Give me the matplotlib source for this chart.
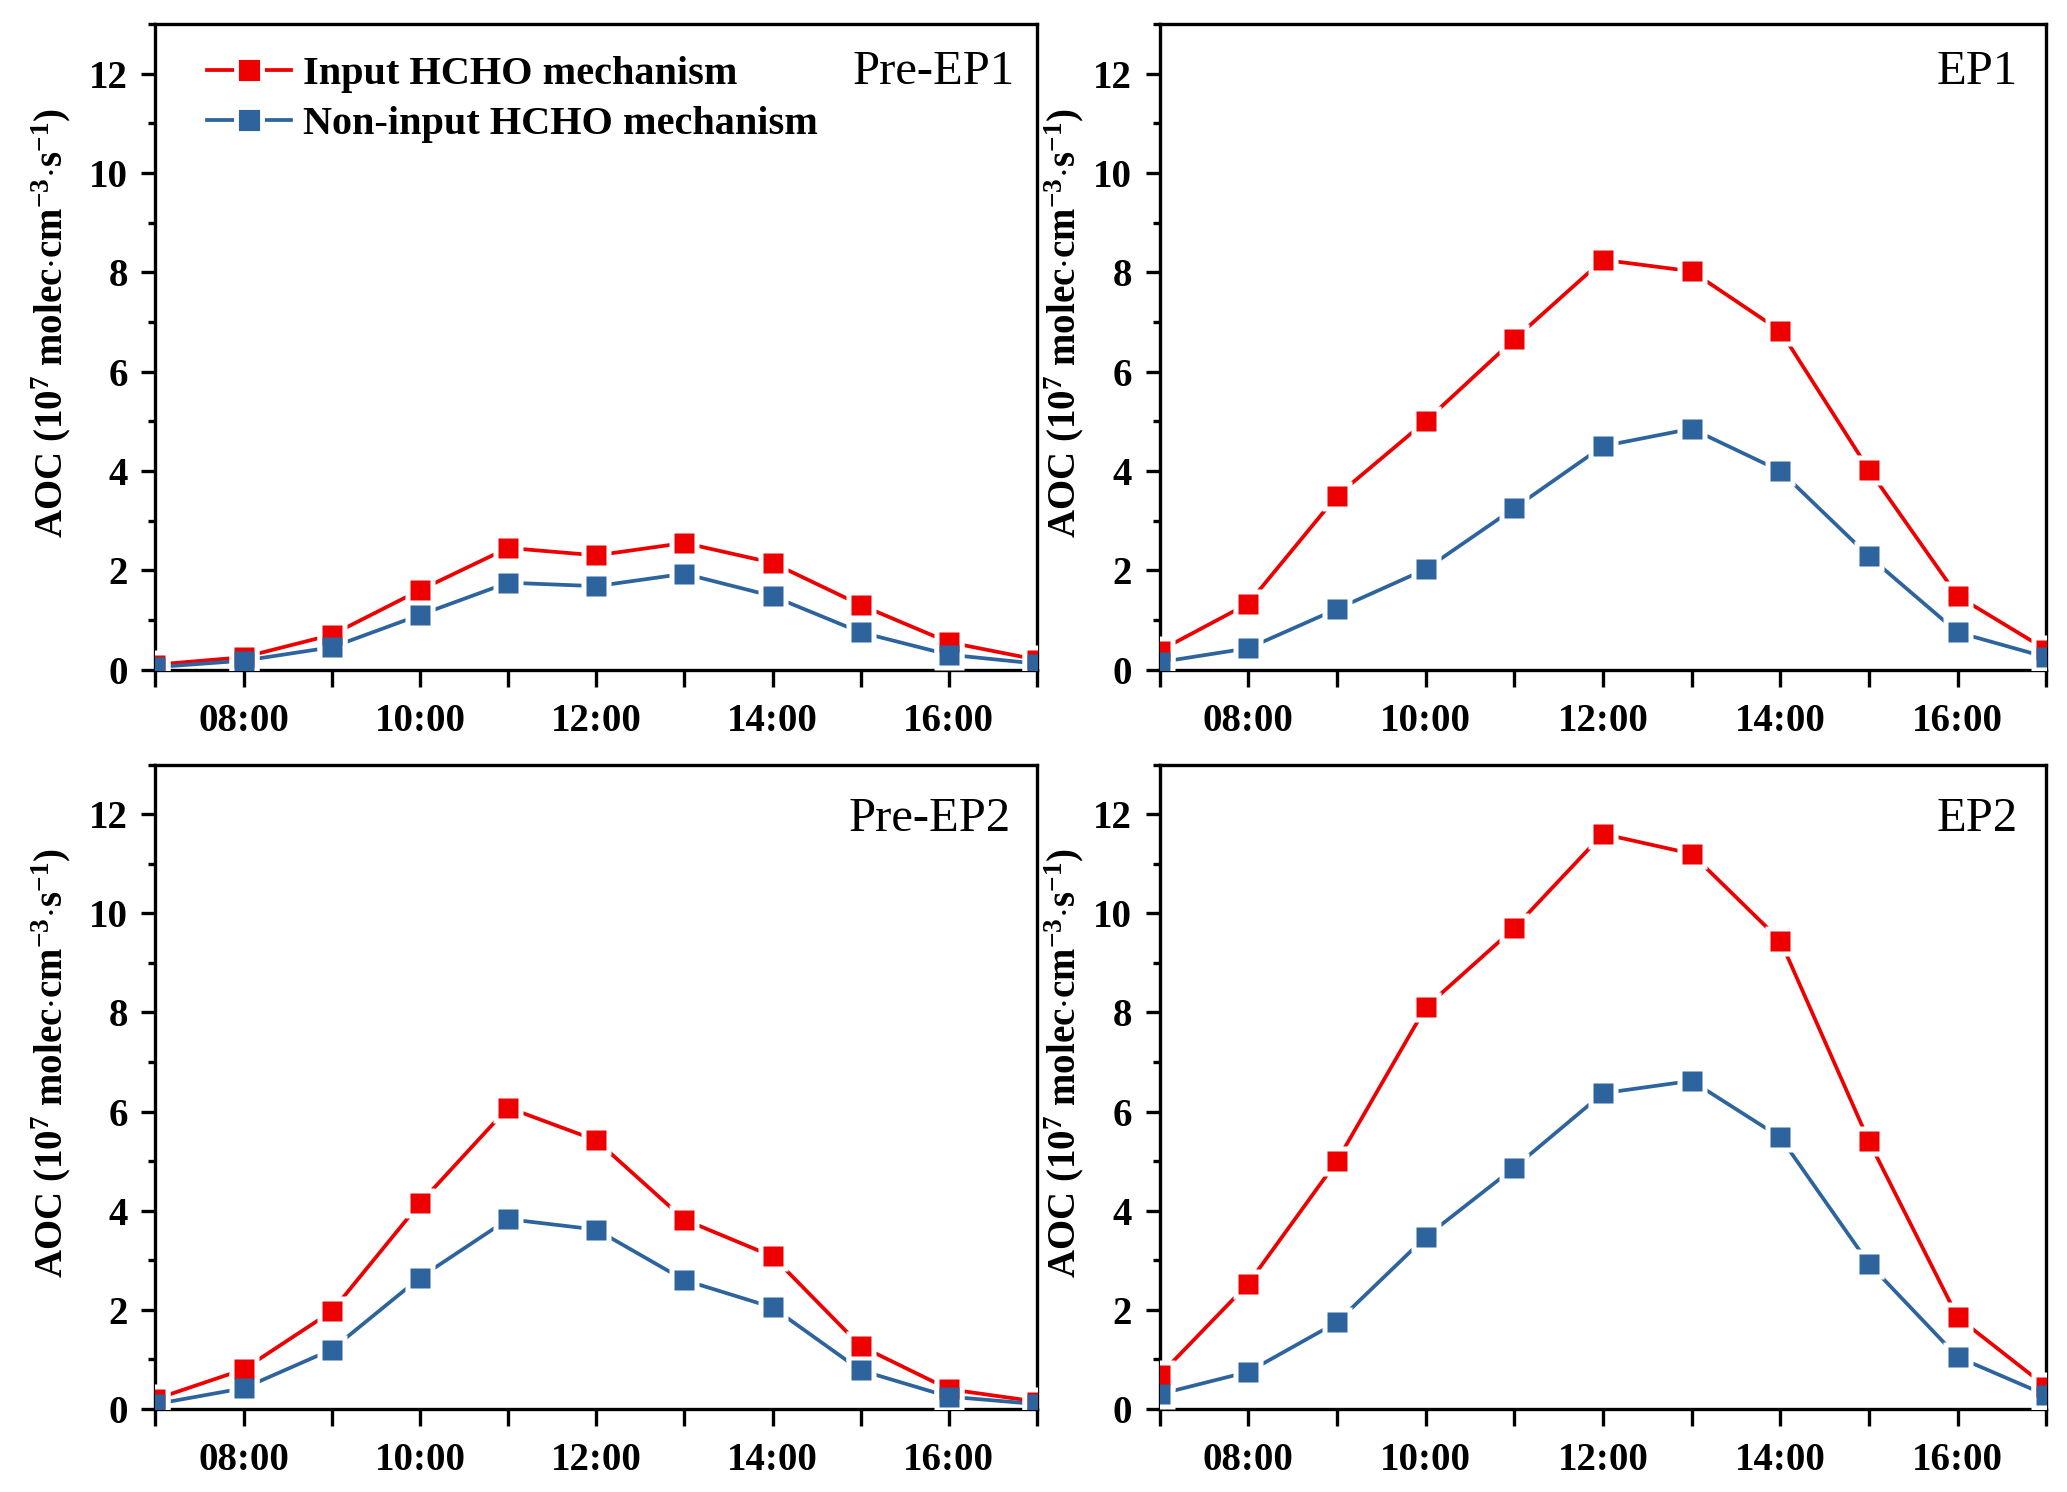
import matplotlib
matplotlib.use("Agg")
import matplotlib.pyplot as plt
from matplotlib.lines import Line2D
from matplotlib.ticker import MultipleLocator, FixedLocator, FixedFormatter

plt.rcParams['font.family'] = ['Liberation Serif', 'DejaVu Serif']
plt.rcParams['mathtext.fontset'] = 'custom'
plt.rcParams['mathtext.rm'] = 'Liberation Serif'
plt.rcParams['mathtext.bf'] = 'Liberation Serif:bold'
plt.rcParams['mathtext.it'] = 'Liberation Serif:italic'

hours = [7, 8, 9, 10, 11, 12, 13, 14, 15, 16, 17]
tick_labels = ['', '08:00', '', '10:00', '', '12:00', '', '14:00', '', '16:00', '']

panel_names = ['Pre-EP1', 'EP1', 'Pre-EP2', 'EP2']

pre_ep1_input = [0.10, 0.25, 0.70, 1.60, 2.45, 2.30, 2.55, 2.15, 1.30, 0.55, 0.20]
pre_ep1_non = [0.05, 0.18, 0.45, 1.10, 1.75, 1.68, 1.93, 1.48, 0.75, 0.30, 0.12]

ep1_input = [0.38, 1.33, 3.50, 5.00, 6.65, 8.25, 8.02, 6.82, 4.02, 1.48, 0.40]
ep1_non = [0.15, 0.43, 1.22, 2.02, 3.25, 4.50, 4.85, 4.00, 2.28, 0.75, 0.25]

pre_ep2_input = [0.20, 0.80, 1.97, 4.15, 6.08, 5.42, 3.82, 3.08, 1.27, 0.40, 0.15]
pre_ep2_non = [0.10, 0.42, 1.20, 2.65, 3.83, 3.62, 2.60, 2.05, 0.78, 0.25, 0.10]

ep2_input = [0.68, 2.53, 5.00, 8.10, 9.70, 11.60, 11.20, 9.45, 5.40, 1.85, 0.45]
ep2_non = [0.30, 0.75, 1.75, 3.47, 4.87, 6.37, 6.62, 5.48, 2.93, 1.05, 0.28]

inputs = [pre_ep1_input, ep1_input, pre_ep2_input, ep2_input]
nons = [pre_ep1_non, ep1_non, pre_ep2_non, ep2_non]

RED = '#EE0000'
BLUE = '#2E649E'
label_input = 'Input HCHO mechanism'
label_non = 'Non-input HCHO mechanism'
ylabel = r'AOC (10$^{\mathbf{7}}$ molec$\cdot$cm$^{\mathbf{-3}}$$\cdot$s$^{\mathbf{-1}}$)'

fig = plt.figure(figsize=(20.67, 14.92), dpi=100)
lefts = [0.0752, 0.561]
widths = [0.5017 - 0.0752, 0.990 - 0.561]
bottoms = [0.5512, 0.0556]
heights = [0.984 - 0.5512, 0.4876 - 0.0556]
label_y = [0.960, 0.950]
label_x = [[0.975, 0.968], [0.970, 0.968]]
ylabel_x = [-0.093, -0.0835]

MS = 14.5
GAP = 22
LW = 2.7

for i in range(4):
    r, c = divmod(i, 2)
    ax = fig.add_axes([lefts[c], bottoms[r], widths[c], heights[r]])
    yi = inputs[i]
    yn = nons[i]
    ax.plot(hours, yi, color=RED, lw=LW, zorder=2)
    ax.plot(hours, yn, color=BLUE, lw=LW, zorder=2)
    ax.plot(hours, yi, ls='none', marker='s', ms=GAP, mfc='white', mec='none', zorder=3)
    ax.plot(hours, yn, ls='none', marker='s', ms=GAP, mfc='white', mec='none', zorder=3)
    ax.plot(hours, yi, ls='none', marker='s', ms=MS, mfc=RED, mec='none', zorder=4)
    ax.plot(hours, yn, ls='none', marker='s', ms=MS, mfc=BLUE, mec='none', zorder=5)

    ax.set_xlim(7, 17)
    ax.set_ylim(0, 13)
    ax.xaxis.set_major_locator(FixedLocator(hours))
    ax.xaxis.set_major_formatter(FixedFormatter(tick_labels))
    ax.yaxis.set_major_locator(MultipleLocator(2))
    ax.yaxis.set_minor_locator(MultipleLocator(1))
    ax.tick_params(axis='x', which='major', direction='out', length=12, width=2.4, pad=12,
                   labelsize=28, top=False)
    ax.tick_params(axis='y', which='major', direction='out', length=10, width=2.4, pad=10,
                   labelsize=28, right=False)
    ax.tick_params(axis='y', which='minor', direction='out', length=5, width=2.4, right=False)
    for lab in ax.get_xticklabels() + ax.get_yticklabels():
        lab.set_fontweight('bold')
    for sp in ax.spines.values():
        sp.set_linewidth(2.4)
    ax.set_ylabel(ylabel, fontsize=28, fontweight='bold')
    ax.yaxis.set_label_coords(ylabel_x[c], 0.537)

    ax.text(label_x[r][c], label_y[r], panel_names[i], transform=ax.transAxes,
            ha='right', va='top', fontsize=35)

    if i == 0:
        h1 = Line2D([], [], color=RED, lw=LW, marker='s', ms=19, mfc=RED, mec='white', mew=3.5)
        h2 = Line2D([], [], color=BLUE, lw=LW, marker='s', ms=19, mfc=BLUE, mec='white', mew=3.5)
        leg = ax.legend([h1, h2], [label_input, label_non], loc='upper left',
                        bbox_to_anchor=(0.04, 0.975), frameon=False,
                        prop={'family': 'Liberation Serif', 'weight': 'bold', 'size': 29},
                        handlelength=2.1, handletextpad=0.3, labelspacing=0.3,
                        borderaxespad=0.0)

fig.savefig('out.png', dpi=100)
